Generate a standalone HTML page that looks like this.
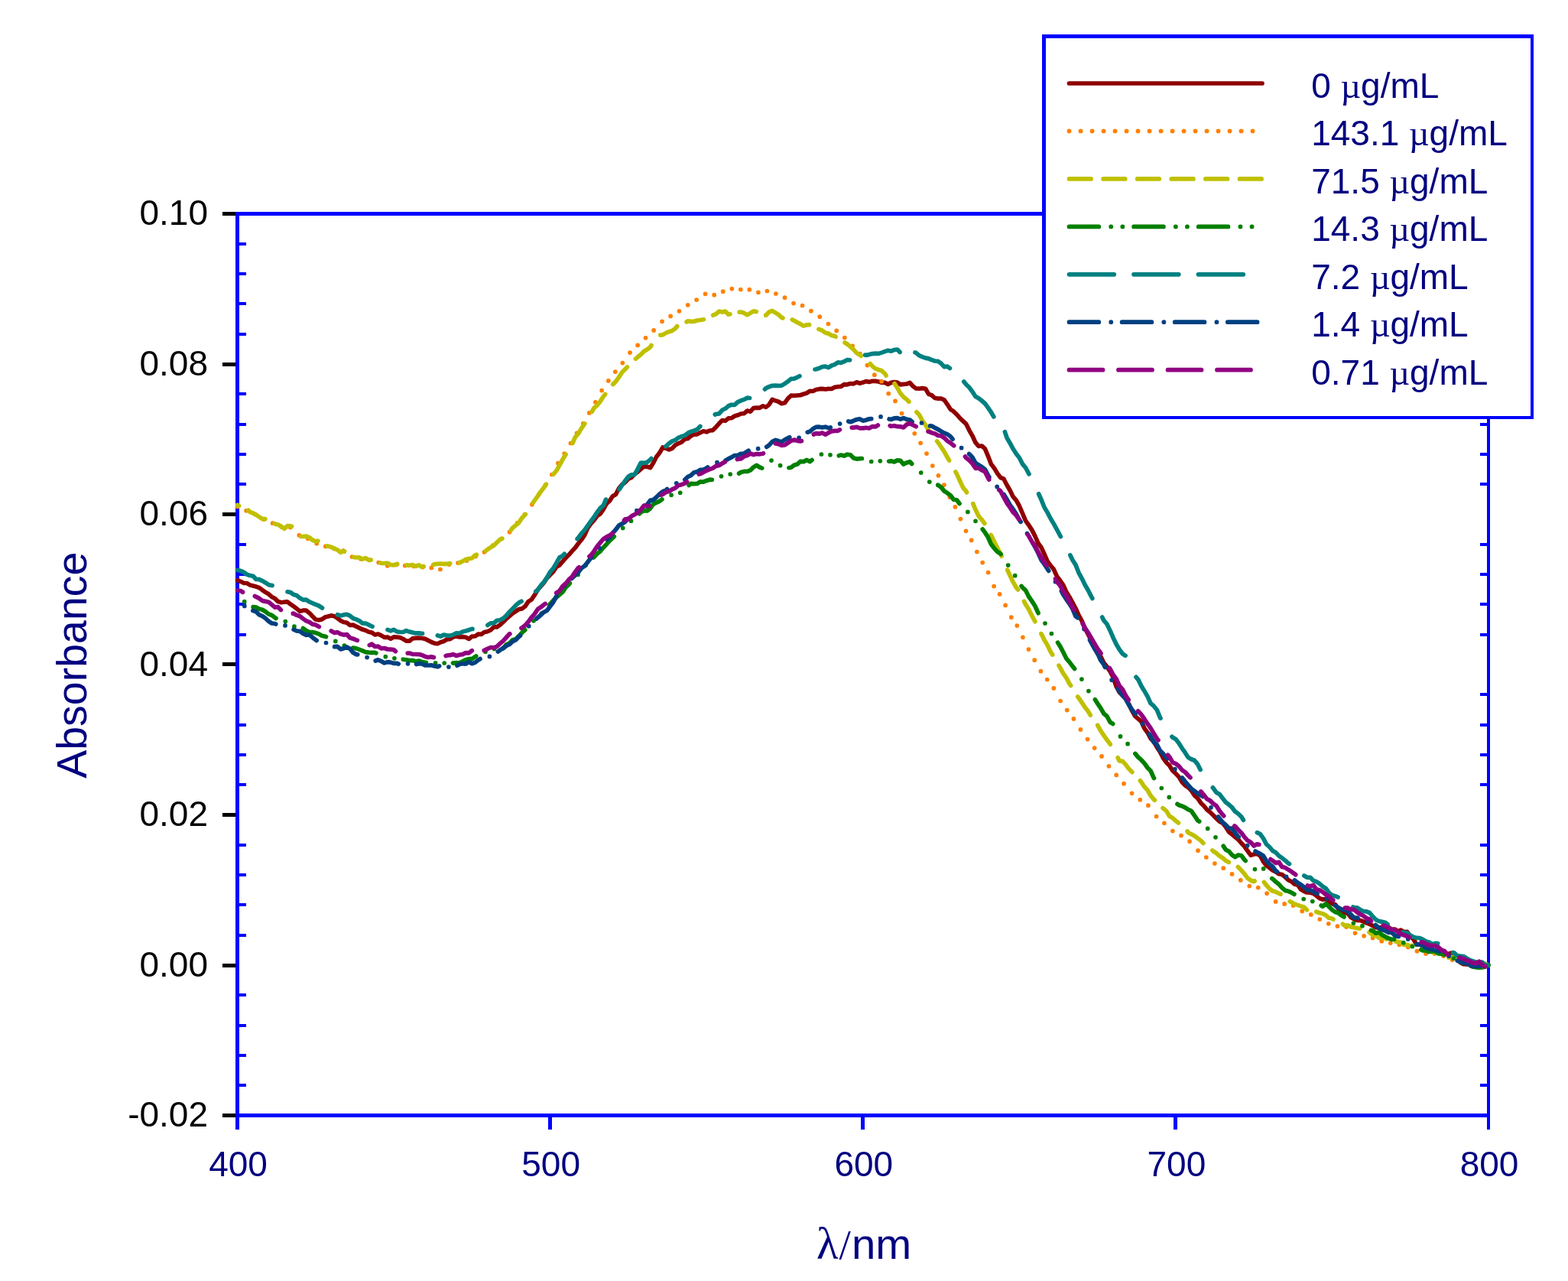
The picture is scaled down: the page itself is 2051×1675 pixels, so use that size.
<!DOCTYPE html>
<html lang="en"><head><meta charset="utf-8"><title>Absorbance spectra</title>
<style>
html,body{margin:0;padding:0;background:#fff;}
body{width:2051px;height:1675px;overflow:hidden;}
svg{display:block;}
text{font-family:"Liberation Sans",Arial,sans-serif;}
.sym{font-family:"Liberation Serif","DejaVu Serif",serif;}
</style></head><body>
<svg width="2051" height="1675" viewBox="0 0 2051 1675">
<rect x="0" y="0" width="2051" height="1675" fill="#ffffff"/>

<g shape-rendering="crispEdges" fill="#0000ff">
<rect x="308" y="277" width="5" height="1184"/>
<rect x="1945" y="277" width="4" height="1184"/>
<rect x="308" y="277" width="1641" height="5"/>
<rect x="308" y="1456" width="1641" height="5"/>
<rect x="308" y="1461" width="5" height="16"/>
<rect x="717" y="1461" width="5" height="16"/>
<rect x="1126" y="1461" width="5" height="16"/>
<rect x="1535" y="1461" width="5" height="16"/>
<rect x="1945" y="1461" width="4" height="16"/>
<rect x="313" y="317" width="9" height="4"/>
<rect x="1936" y="317" width="9" height="4"/>
<rect x="313" y="356" width="9" height="4"/>
<rect x="1936" y="356" width="9" height="4"/>
<rect x="313" y="395" width="9" height="4"/>
<rect x="1936" y="395" width="9" height="4"/>
<rect x="313" y="435" width="9" height="4"/>
<rect x="1936" y="435" width="9" height="4"/>
<rect x="313" y="513" width="9" height="4"/>
<rect x="1936" y="513" width="9" height="4"/>
<rect x="313" y="553" width="9" height="4"/>
<rect x="1936" y="553" width="9" height="4"/>
<rect x="313" y="592" width="9" height="4"/>
<rect x="1936" y="592" width="9" height="4"/>
<rect x="313" y="631" width="9" height="4"/>
<rect x="1936" y="631" width="9" height="4"/>
<rect x="313" y="710" width="9" height="4"/>
<rect x="1936" y="710" width="9" height="4"/>
<rect x="313" y="749" width="9" height="4"/>
<rect x="1936" y="749" width="9" height="4"/>
<rect x="313" y="788" width="9" height="4"/>
<rect x="1936" y="788" width="9" height="4"/>
<rect x="313" y="828" width="9" height="4"/>
<rect x="1936" y="828" width="9" height="4"/>
<rect x="313" y="906" width="9" height="4"/>
<rect x="1936" y="906" width="9" height="4"/>
<rect x="313" y="946" width="9" height="4"/>
<rect x="1936" y="946" width="9" height="4"/>
<rect x="313" y="985" width="9" height="4"/>
<rect x="1936" y="985" width="9" height="4"/>
<rect x="313" y="1024" width="9" height="4"/>
<rect x="1936" y="1024" width="9" height="4"/>
<rect x="313" y="1103" width="9" height="4"/>
<rect x="1936" y="1103" width="9" height="4"/>
<rect x="313" y="1142" width="9" height="4"/>
<rect x="1936" y="1142" width="9" height="4"/>
<rect x="313" y="1181" width="9" height="4"/>
<rect x="1936" y="1181" width="9" height="4"/>
<rect x="313" y="1221" width="9" height="4"/>
<rect x="1936" y="1221" width="9" height="4"/>
<rect x="313" y="1299" width="9" height="4"/>
<rect x="1936" y="1299" width="9" height="4"/>
<rect x="313" y="1339" width="9" height="4"/>
<rect x="1936" y="1339" width="9" height="4"/>
<rect x="313" y="1378" width="9" height="4"/>
<rect x="1936" y="1378" width="9" height="4"/>
<rect x="313" y="1417" width="9" height="4"/>
<rect x="1936" y="1417" width="9" height="4"/>
</g>
<g shape-rendering="crispEdges" fill="#000000">
<rect x="291" y="277" width="17" height="5"/>
<rect x="291" y="474" width="17" height="5"/>
<rect x="291" y="670" width="17" height="5"/>
<rect x="291" y="866" width="17" height="5"/>
<rect x="291" y="1063" width="17" height="5"/>
<rect x="291" y="1260" width="17" height="5"/>
<rect x="291" y="1456" width="17" height="5"/>
</g>
<g font-size="46" fill="#000000" text-anchor="end">
<text x="272" y="294.1">0.10</text>
<text x="272" y="490.6">0.08</text>
<text x="272" y="687.1">0.06</text>
<text x="272" y="883.6">0.04</text>
<text x="272" y="1080.1">0.02</text>
<text x="272" y="1276.6">0.00</text>
<text x="272" y="1473.1">-0.02</text>
</g>
<g font-size="46" fill="#000080" text-anchor="middle">
<text x="311.5" y="1538.2">400</text>
<text x="720.6" y="1538.2">500</text>
<text x="1129.8" y="1538.2">600</text>
<text x="1538.9" y="1538.2">700</text>
<text x="1948.0" y="1538.2">800</text>
</g>
<text x="1068" y="1646" font-size="56.3" fill="#000080"><tspan class="sym" font-size="59">λ</tspan><tspan class="sym" font-size="55" x="1097.6">/</tspan><tspan x="1113.9">nm</tspan></text>
<text transform="translate(113.2,869.7) rotate(-90)" font-size="55.5" fill="#000080" text-anchor="middle">Absorbance</text>
<g fill="none" stroke-linecap="round" stroke-linejoin="round" stroke-width="5.7">
<path d="M310.5,758.6 L314.6,760.3 L318.7,762.3 L322.8,762.5 L326.9,764.9 L331.0,765.9 L335.0,767.1 L339.1,768.5 L343.2,771.6 L347.3,774.4 L351.4,776.8 L355.5,780.4 L359.6,782.6 L363.7,786.6 L367.8,787.8 L371.9,787.2 L376.0,786.9 L380.1,790.2 L384.1,792.8 L388.2,796.0 L392.3,799.3 L396.4,798.2 L400.5,798.2 L404.6,801.4 L408.7,805.8 L412.8,810.0 L416.9,810.8 L421.0,809.9 L425.1,807.1 L429.1,806.1 L433.2,804.9 L437.3,805.7 L441.4,808.3 L445.5,811.6 L449.6,813.5 L453.7,814.3 L457.8,817.5 L461.9,817.1 L466.0,819.2 L470.1,821.1 L474.1,823.1 L478.2,824.3 L482.3,826.3 L486.4,827.1 L490.5,830.0 L494.6,829.0 L498.7,830.9 L502.8,833.4 L506.9,833.1 L511.0,835.3 L515.1,832.9 L519.2,833.1 L523.2,833.6 L527.3,835.5 L531.4,838.1 L535.5,838.2 L539.6,834.9 L543.7,834.4 L547.8,834.2 L551.9,834.5 L556.0,835.4 L560.1,837.4 L564.2,839.5 L568.2,841.1 L572.3,841.7 L576.4,839.7 L580.5,838.5 L584.6,836.0 L588.7,835.6 L592.8,832.9 L596.9,831.9 L601.0,833.0 L605.1,832.6 L609.2,833.3 L613.3,835.4 L617.3,832.2 L621.4,832.0 L625.5,829.1 L629.6,829.4 L633.7,826.5 L637.8,825.8 L641.9,823.8 L646.0,819.9 L650.1,819.8 L654.2,816.9 L658.3,813.1 L662.3,809.2 L666.4,805.6 L670.5,802.1 L674.6,799.3 L678.7,796.6 L682.8,795.9 L686.9,792.8 L691.0,786.7 L695.1,784.1 L699.2,778.2 L703.3,771.1 L707.4,766.6 L711.4,762.0 L715.5,755.6 L719.6,751.6 L723.7,747.4 L727.8,741.2 L731.9,739.0 L736.0,734.1 L740.1,729.4 L744.2,725.3 L748.3,720.6 L752.4,716.3 L756.4,710.8 L760.5,705.8 L764.6,699.8 L768.7,690.6 L772.8,684.9 L776.9,680.4 L781.0,674.6 L785.1,671.8 L789.2,666.0 L793.3,658.7 L797.4,655.0 L801.4,648.7 L805.5,646.4 L809.6,638.5 L813.7,633.6 L817.8,630.7 L821.9,626.1 L826.0,624.3 L830.1,619.9 L834.2,617.0 L838.3,613.3 L842.4,610.0 L846.5,610.2 L850.5,611.6 L854.6,605.2 L858.7,597.3 L862.8,592.1 L866.9,584.9 L871.0,586.1 L875.1,587.9 L879.2,586.3 L883.3,582.0 L887.4,579.8 L891.5,578.1 L895.5,574.3 L899.6,573.5 L903.7,570.0 L907.8,568.2 L911.9,567.8 L916.0,565.8 L920.1,563.8 L924.2,564.8 L928.3,563.0 L932.4,562.6 L936.5,558.4 L940.6,553.8 L944.6,549.6 L948.7,550.3 L952.8,546.8 L956.9,546.7 L961.0,544.0 L965.1,542.8 L969.2,541.0 L973.3,540.7 L977.4,537.1 L981.5,538.2 L985.6,533.6 L989.6,533.1 L993.7,533.3 L997.8,530.9 L1001.9,532.4 L1006.0,529.1 L1010.1,522.4 L1014.2,523.9 L1018.3,525.2 L1022.4,527.7 L1026.5,526.8 L1030.6,521.1 L1034.7,517.2 L1038.7,517.3 L1042.8,517.0 L1046.9,516.7 L1051.0,515.2 L1055.1,514.1 L1059.2,511.3 L1063.3,511.5 L1067.4,509.5 L1071.5,508.7 L1075.6,508.4 L1079.7,509.0 L1083.7,508.4 L1087.8,508.5 L1091.9,506.3 L1096.0,505.7 L1100.1,505.3 L1104.2,502.6 L1108.3,502.8 L1112.4,501.5 L1116.5,501.8 L1120.6,499.8 L1124.7,501.2 L1128.8,500.1 L1132.8,498.6 L1136.9,499.4 L1141.0,498.3 L1145.1,498.4 L1149.2,499.0 L1153.3,500.2 L1157.4,500.3 L1161.5,502.4 L1165.6,500.4 L1169.7,499.6 L1173.8,500.1 L1177.8,502.8 L1181.9,502.4 L1186.0,502.0 L1190.1,500.5 L1194.2,505.0 L1198.3,508.0 L1202.4,508.2 L1206.5,507.6 L1210.6,508.3 L1214.7,515.4 L1218.8,516.8 L1222.8,520.5 L1226.9,521.1 L1231.0,521.2 L1235.1,522.9 L1239.2,528.8 L1243.3,535.3 L1247.4,537.9 L1251.5,542.0 L1255.6,546.7 L1259.7,550.6 L1263.8,554.4 L1267.9,562.8 L1271.9,569.8 L1276.0,578.7 L1280.1,583.5 L1284.2,583.0 L1288.3,586.6 L1292.4,596.3 L1296.5,607.1 L1300.6,612.3 L1304.7,619.1 L1308.8,624.5 L1312.9,626.2 L1316.9,634.0 L1321.0,641.0 L1325.1,649.4 L1329.2,654.2 L1333.3,661.5 L1337.4,671.1 L1341.5,680.8 L1345.6,686.5 L1349.7,692.9 L1353.8,700.9 L1357.9,710.2 L1362.0,715.8 L1366.0,724.4 L1370.1,733.8 L1374.2,739.5 L1378.3,744.3 L1382.4,753.5 L1386.5,758.8 L1390.6,764.8 L1394.7,773.7 L1398.8,780.4 L1402.9,787.8 L1407.0,795.5 L1411.0,804.5 L1415.1,811.8 L1419.2,821.6 L1423.3,829.4 L1427.4,837.3 L1431.5,847.0 L1435.6,854.7 L1439.7,858.3 L1443.8,866.8 L1447.9,871.7 L1452.0,878.0 L1456.0,885.3 L1460.1,897.5 L1464.2,905.2 L1468.3,909.1 L1472.4,912.9 L1476.5,920.5 L1480.6,929.2 L1484.7,936.4 L1488.8,939.9 L1492.9,943.5 L1497.0,952.5 L1501.1,958.0 L1505.1,965.6 L1509.2,970.0 L1513.3,976.9 L1517.4,983.2 L1521.5,991.3 L1525.6,996.9 L1529.7,1001.1 L1533.8,1007.7 L1537.9,1011.3 L1542.0,1015.8 L1546.1,1022.5 L1550.1,1026.8 L1554.2,1029.6 L1558.3,1033.7 L1562.4,1040.0 L1566.5,1043.6 L1570.6,1049.7 L1574.7,1053.7 L1578.8,1058.7 L1582.9,1062.0 L1587.0,1066.0 L1591.1,1070.3 L1595.2,1074.2 L1599.2,1076.1 L1603.3,1081.3 L1607.4,1087.7 L1611.5,1090.9 L1615.6,1094.5 L1619.7,1097.7 L1623.8,1102.5 L1627.9,1106.8 L1632.0,1112.8 L1636.1,1118.3 L1640.2,1117.0 L1644.2,1116.5 L1648.3,1118.9 L1652.4,1126.5 L1656.5,1131.7 L1660.6,1134.7 L1664.7,1137.9 L1668.8,1140.0 L1672.9,1142.8 L1677.0,1143.5 L1681.1,1146.9 L1685.2,1150.7 L1689.3,1152.7 L1693.3,1156.2 L1697.4,1156.9 L1701.5,1162.9 L1705.6,1165.3 L1709.7,1167.0 L1713.8,1167.2 L1717.9,1168.3 L1722.0,1171.3 L1726.1,1174.6 L1730.2,1176.2 L1734.3,1175.4 L1738.3,1178.8 L1742.4,1181.7 L1746.5,1182.6 L1750.6,1188.3 L1754.7,1191.6 L1758.8,1193.8 L1762.9,1194.5 L1767.0,1199.5 L1771.1,1201.6 L1775.2,1203.4 L1779.3,1203.5 L1783.3,1204.9 L1787.4,1206.9 L1791.5,1208.2 L1795.6,1210.4 L1799.7,1212.7 L1803.8,1213.3 L1807.9,1212.4 L1812.0,1213.4 L1816.1,1212.3 L1820.2,1215.3 L1824.3,1215.0 L1828.4,1217.7 L1832.4,1216.2 L1836.5,1218.6 L1840.6,1218.4 L1844.7,1223.7 L1848.8,1228.0 L1852.9,1235.0 L1857.0,1235.0 L1861.1,1236.1 L1865.2,1239.6 L1869.3,1240.3 L1873.4,1241.9 L1877.4,1245.4 L1881.5,1245.6 L1885.6,1247.4 L1889.7,1246.8 L1893.8,1247.6 L1897.9,1246.1 L1902.0,1250.8 L1906.1,1254.3 L1910.2,1258.6 L1914.3,1260.6 L1918.4,1260.8 L1922.5,1261.1 L1926.5,1261.4 L1930.6,1260.4 L1934.7,1263.4 L1938.8,1262.5 L1942.9,1261.4 L1947.0,1262.0" stroke="#8f0000"/>
<path d="M310.5,662.5h0.01 M322.1,667.8h0.01 M333.6,672.4h0.01 M345.1,679.1h0.01 M356.6,684.2h0.01 M368.2,688.9h0.01 M379.7,689.6h0.01 M391.3,699.8h0.01 M402.7,704.3h0.01 M414.2,710.7h0.01 M425.8,714.4h0.01 M437.4,717.6h0.01 M448.9,720.1h0.01 M460.5,728.1h0.01 M472.0,731.0h0.01 M483.6,732.3h0.01 M495.2,735.5h0.01 M506.7,739.8h0.01 M518.2,738.5h0.01 M529.7,739.6h0.01 M541.3,740.4h0.01 M552.8,741.6h0.01 M564.3,742.4h0.01 M575.9,744.5h0.01 M587.4,738.1h0.01 M599.0,736.0h0.01 M610.5,733.1h0.01 M622.1,727.6h0.01 M633.5,721.8h0.01 M644.8,713.0h0.01 M655.8,704.5h0.01 M666.5,695.7h0.01 M676.7,683.8h0.01 M686.5,672.7h0.01 M695.9,659.7h0.01 M704.8,646.3h0.01 M713.4,634.3h0.01 M721.8,620.5h0.01 M730.0,605.7h0.01 M738.2,593.0h0.01 M746.4,579.5h0.01 M754.6,566.4h0.01 M762.8,553.9h0.01 M770.8,539.9h0.01 M778.8,525.8h0.01 M787.1,510.6h0.01 M795.8,497.9h0.01 M804.8,486.1h0.01 M814.3,474.6h0.01 M824.0,461.1h0.01 M834.1,451.4h0.01 M844.5,441.8h0.01 M855.1,431.9h0.01 M866.0,420.3h0.01 M877.1,413.4h0.01 M888.4,406.8h0.01 M899.7,398.8h0.01 M911.1,392.0h0.01 M922.6,384.3h0.01 M934.2,385.7h0.01 M945.7,381.2h0.01 M957.3,377.6h0.01 M968.8,378.5h0.01 M980.3,378.7h0.01 M991.9,382.3h0.01 M1003.4,380.5h0.01 M1014.9,384.0h0.01 M1026.5,389.2h0.01 M1038.0,396.6h0.01 M1049.5,399.5h0.01 M1060.9,406.7h0.01 M1072.2,414.2h0.01 M1083.4,423.5h0.01 M1094.2,432.4h0.01 M1104.8,441.5h0.01 M1115.1,452.4h0.01 M1124.8,462.7h0.01 M1134.4,477.6h0.01 M1143.8,490.2h0.01 M1153.1,498.7h0.01 M1162.2,514.7h0.01 M1171.0,524.4h0.01 M1179.6,540.5h0.01 M1188.0,552.7h0.01 M1196.2,566.8h0.01 M1204.1,579.3h0.01 M1212.0,593.1h0.01 M1219.8,609.0h0.01 M1227.4,621.8h0.01 M1234.9,634.1h0.01 M1242.2,650.1h0.01 M1249.4,662.9h0.01 M1256.4,678.6h0.01 M1263.5,694.3h0.01 M1270.6,706.4h0.01 M1277.9,721.6h0.01 M1285.2,735.6h0.01 M1292.6,748.5h0.01 M1300.1,766.6h0.01 M1307.6,776.9h0.01 M1315.1,791.4h0.01 M1322.8,807.2h0.01 M1330.3,818.1h0.01 M1337.9,833.3h0.01 M1345.5,849.1h0.01 M1353.2,863.2h0.01 M1361.4,877.7h0.01 M1369.7,888.5h0.01 M1378.3,899.9h0.01 M1387.1,916.5h0.01 M1395.7,928.6h0.01 M1404.4,939.9h0.01 M1413.4,953.9h0.01 M1422.5,966.6h0.01 M1431.6,978.1h0.01 M1441.0,988.9h0.01 M1450.4,1001.8h0.01 M1460.2,1013.4h0.01 M1470.0,1024.7h0.01 M1480.5,1037.3h0.01 M1491.3,1045.8h0.01 M1501.9,1053.2h0.01 M1512.6,1067.6h0.01 M1522.9,1076.3h0.01 M1533.9,1086.6h0.01 M1545.0,1092.6h0.01 M1556.1,1100.2h0.01 M1567.0,1112.2h0.01 M1577.8,1121.0h0.01 M1588.9,1129.1h0.01 M1600.2,1135.2h0.01 M1611.5,1142.9h0.01 M1622.8,1150.9h0.01 M1634.3,1158.6h0.01 M1645.7,1160.5h0.01 M1657.1,1168.2h0.01 M1668.6,1178.9h0.01 M1680.1,1181.9h0.01 M1691.7,1184.0h0.01 M1703.2,1191.4h0.01 M1714.8,1195.9h0.01 M1726.3,1202.0h0.01 M1737.8,1207.8h0.01 M1749.4,1211.1h0.01 M1761.0,1211.9h0.01 M1772.5,1220.1h0.01 M1784.1,1223.8h0.01 M1795.6,1226.5h0.01 M1807.2,1230.7h0.01 M1818.8,1233.1h0.01 M1830.3,1235.3h0.01 M1841.9,1238.5h0.01 M1853.5,1243.7h0.01 M1865.0,1247.1h0.01 M1876.6,1247.0h0.01 M1888.1,1250.0h0.01 M1899.7,1255.1h0.01 M1911.2,1257.7h0.01 M1922.8,1258.5h0.01 M1934.3,1262.2h0.01 M1945.8,1262.3h0.01" stroke="#ff8000"/>
<path d="M310.5,660.3 L312.5,661.5 M324.9,667.2 L326.9,669.3 L331.0,671.0 L335.0,673.2 L339.1,675.8 L343.2,678.6 L346.9,678.7 M359.3,684.8 L359.6,684.9 L363.7,686.1 L367.8,688.3 L371.9,691.3 L376.0,687.7 L380.1,687.8 L381.5,688.4 M393.9,701.5 L396.4,701.5 L400.5,701.1 L404.6,702.8 L408.7,706.2 L412.8,707.7 L416.0,707.3 M428.4,713.9 L429.1,714.1 L433.2,715.4 L437.3,717.2 L441.4,719.0 L445.5,722.3 L449.6,720.4 L450.6,721.0 M463.0,728.6 L466.0,729.0 L470.1,728.9 L474.1,731.1 L478.2,729.6 L482.3,732.3 L485.2,732.1 M497.6,736.1 L498.7,736.4 L502.8,736.5 L506.9,736.4 L511.0,738.5 L515.1,738.9 L519.2,737.4 L519.7,737.4 M532.1,738.9 L535.5,739.3 L539.6,738.6 L543.7,740.5 L547.8,738.9 L551.9,741.3 L554.2,740.6 M566.6,738.6 L568.2,737.7 L572.3,737.3 L576.4,737.0 L580.5,737.3 L584.6,737.4 L588.7,736.7 L588.7,736.7 M601.1,735.9 L605.1,733.9 L609.2,731.5 L613.3,730.4 L617.3,730.0 L621.4,726.0 L623.3,725.3 M635.6,720.2 L637.8,718.3 L641.9,715.6 L646.0,713.2 L650.1,709.1 L654.2,705.4 L656.9,704.2 M668.4,693.1 L670.5,690.2 L674.6,686.9 L678.7,683.3 L682.8,677.2 L686.9,672.9 L687.3,672.5 M697.2,657.4 L699.2,654.5 L703.3,648.8 L707.4,642.7 L711.4,637.6 L714.4,633.2 M723.8,620.3 L727.8,615.5 L731.9,608.4 L736.0,600.7 L740.1,594.1 M748.9,579.6 L752.4,571.6 L756.4,567.0 L760.5,560.2 L764.6,554.4 L764.9,553.9 M774.2,538.2 L776.9,533.7 L781.0,530.1 L785.1,524.9 L789.2,518.5 L791.6,515.5 M801.7,502.6 L805.5,498.9 L809.6,493.1 L813.7,486.8 L817.8,482.8 L820.4,479.9 M831.5,469.1 L834.2,466.8 L838.3,463.5 L842.4,459.2 L846.5,456.9 L850.5,454.0 L852.0,451.6 M863.8,438.1 L866.9,437.9 L871.0,435.4 L875.1,433.7 L879.2,432.6 L883.3,429.5 L885.7,426.6 M898.1,420.9 L899.6,419.9 L903.7,420.3 L907.8,420.3 L911.9,419.0 L916.0,418.5 L920.1,417.7 L920.3,417.6 M932.7,412.2 L936.5,410.7 L940.6,407.1 L944.6,408.0 L948.7,407.1 L952.8,411.2 L954.9,410.8 M967.2,408.1 L969.2,408.0 L973.3,409.3 L977.4,411.9 L981.5,409.4 L985.6,406.9 L989.3,407.5 M1001.7,412.2 L1001.9,412.2 L1006.0,408.0 L1010.1,406.4 L1014.2,408.9 L1018.3,411.4 L1022.4,415.3 L1023.9,415.8 M1036.3,417.9 L1038.7,419.2 L1042.8,421.5 L1046.9,423.6 L1051.0,426.1 L1055.1,424.9 L1058.5,424.7 M1070.9,430.4 L1071.5,430.6 L1075.6,432.2 L1079.7,435.2 L1083.7,436.1 L1087.8,438.7 L1091.9,439.4 L1093.0,440.2 M1105.1,448.0 L1108.3,450.0 L1112.4,453.4 L1116.5,457.0 L1120.6,461.7 L1124.7,463.9 L1126.3,465.3 M1138.2,475.6 L1141.0,478.7 L1145.1,481.9 L1149.2,483.5 L1153.3,484.8 L1157.4,488.4 L1159.0,491.0 M1170.1,501.6 L1173.8,507.2 L1177.8,514.3 L1181.9,519.2 L1186.0,522.2 L1188.9,525.2 M1198.9,538.8 L1202.4,542.4 L1206.5,550.1 L1210.6,555.6 L1214.7,562.7 L1216.2,564.2 M1225.7,577.0 L1226.9,578.5 L1231.0,584.5 L1235.1,590.7 L1239.2,598.1 L1241.6,602.0 M1250.0,616.9 L1251.5,619.9 L1255.6,628.8 L1259.7,637.6 L1263.8,642.4 L1264.5,644.0 M1272.8,658.7 L1276.0,666.5 L1280.1,674.8 L1284.2,679.6 L1287.9,684.4 M1296.2,699.4 L1296.5,699.9 L1300.6,708.5 L1304.7,716.5 L1308.8,724.0 L1310.1,727.2 M1317.7,745.2 L1321.0,752.3 L1325.1,760.9 L1329.2,768.1 L1331.6,771.0 M1339.5,786.2 L1341.5,790.3 L1345.6,796.7 L1349.7,804.9 L1353.8,812.5 L1353.9,812.7 M1361.9,828.5 L1362.0,828.5 L1366.0,836.7 L1370.1,843.6 L1374.2,852.3 L1376.7,856.1 M1385.0,870.2 L1386.5,872.6 L1390.6,880.4 L1394.7,886.2 L1398.8,893.9 L1400.6,896.4 M1409.7,910.9 L1411.0,912.6 L1415.1,918.7 L1419.2,924.8 L1423.3,930.1 L1426.3,935.1 M1435.7,948.3 L1439.7,955.5 L1443.8,961.6 L1447.9,967.4 L1452.0,972.8 L1452.3,973.4 M1462.2,990.8 L1464.2,994.9 L1468.3,995.3 L1472.4,999.6 L1476.5,1005.3 L1480.6,1009.3 L1480.8,1009.6 M1491.4,1020.7 L1492.9,1022.7 L1497.0,1028.9 L1501.1,1033.3 L1505.1,1040.3 L1509.2,1045.3 L1510.4,1046.3 M1521.0,1056.7 L1521.5,1057.1 L1525.6,1060.4 L1529.7,1067.2 L1533.8,1069.5 L1537.9,1073.3 L1541.4,1076.0 M1553.1,1087.0 L1554.2,1088.7 L1558.3,1090.7 L1562.4,1093.0 L1566.5,1096.0 L1570.6,1099.1 L1574.0,1102.5 M1585.9,1112.0 L1587.0,1113.0 L1591.1,1115.7 L1595.2,1119.3 L1599.2,1121.7 L1603.3,1125.4 L1607.4,1127.5 L1607.4,1127.5 M1619.4,1133.6 L1619.7,1133.8 L1623.8,1138.1 L1627.9,1142.8 L1632.0,1148.4 L1636.1,1151.2 L1640.2,1152.7 L1641.1,1152.1 M1653.4,1153.4 L1656.5,1157.4 L1660.6,1162.1 L1664.7,1165.1 L1668.8,1166.3 L1672.9,1168.3 L1675.1,1169.2 M1687.3,1178.7 L1689.3,1179.7 L1693.3,1182.1 L1697.4,1183.4 L1701.5,1184.9 L1705.6,1186.1 L1709.4,1189.7 M1721.8,1192.2 L1722.0,1192.2 L1726.1,1193.7 L1730.2,1194.7 L1734.3,1196.8 L1738.3,1200.3 L1742.4,1201.0 L1744.0,1202.1 M1756.4,1208.3 L1758.8,1210.1 L1762.9,1209.8 L1767.0,1211.9 L1771.1,1212.7 L1775.2,1213.5 L1778.6,1214.2 M1791.0,1219.0 L1791.5,1219.3 L1795.6,1223.0 L1799.7,1223.0 L1803.8,1226.3 L1807.9,1226.0 L1812.0,1227.2 L1813.2,1227.9 M1825.6,1231.1 L1828.4,1231.7 L1832.4,1232.1 L1836.5,1235.5 L1840.6,1235.4 L1844.7,1237.1 L1847.8,1236.3 M1860.2,1239.6 L1861.1,1240.2 L1865.2,1240.6 L1869.3,1243.4 L1873.4,1245.2 L1877.4,1245.2 L1881.5,1246.6 L1882.4,1246.8 M1894.8,1252.1 L1897.9,1251.7 L1902.0,1251.3 L1906.1,1251.7 L1910.2,1254.4 L1914.3,1255.3 L1917.0,1256.9 M1929.4,1260.9 L1930.6,1260.5 L1934.7,1259.5 L1938.8,1261.4 L1942.9,1260.2 L1947.0,1262.0" stroke="#c0c000"/>
<path d="M319.7,786.7h0.01 M331.1,793.7 L335.0,794.0 L339.1,796.2 L343.2,797.2 L347.3,799.7 L351.4,802.9 L355.5,804.5 L359.6,807.6 L361.0,808.5 M373.3,812.6h0.01 M384.9,819.2h0.01 M396.4,821.5 L396.4,821.5 L400.5,824.6 L404.6,826.5 L408.7,826.6 L412.8,827.5 L416.9,828.9 L421.0,831.3 L425.1,832.1 L426.5,832.7 M438.8,838.4h0.01 M450.4,844.1h0.01 M461.8,847.0 L461.9,847.0 L466.0,847.9 L470.1,849.4 L474.1,850.9 L478.2,852.7 L482.3,853.1 L486.4,853.4 L490.5,853.4 L491.9,854.0 M504.3,858.7h0.01 M515.9,860.8h0.01 M527.3,862.2 L527.3,862.2 L531.4,862.8 L535.5,863.6 L539.6,863.5 L543.7,864.7 L547.8,864.0 L551.9,865.5 L556.0,866.4 L557.3,866.3 M569.6,866.9h0.01 M581.2,867.0h0.01 M592.6,867.0 L592.8,867.1 L596.9,866.5 L601.0,866.8 L605.1,864.9 L609.2,862.8 L613.3,861.7 L617.3,861.6 L621.4,858.9 L622.7,857.9 M635.0,852.3h0.01 M646.6,848.4h0.01 M658.0,847.6 L658.3,847.6 L662.3,842.9 L666.4,841.0 L670.5,836.8 L674.6,835.8 L678.7,831.6 L682.8,827.2 L686.8,823.6 M698.0,811.7h0.01 M708.4,802.0h0.01 M718.6,791.2 L719.6,789.7 L723.7,785.3 L727.8,781.0 L731.9,777.5 L736.0,774.1 L740.1,768.0 L744.2,764.1 L745.3,762.6 M756.0,751.4h0.01 M766.2,739.1h0.01 M776.3,729.1 L776.9,728.5 L781.0,724.1 L785.1,720.9 L789.2,716.0 L793.3,711.7 L797.4,707.1 L801.4,703.5 L803.3,701.5 M814.7,690.4h0.01 M825.5,681.2h0.01 M836.4,671.7 L838.3,669.7 L842.4,667.6 L846.5,667.9 L850.5,664.9 L854.6,659.2 L858.7,657.1 L862.8,655.3 L865.9,653.0 M878.1,647.3h0.01 M889.7,644.3h0.01 M901.1,634.5 L903.7,632.4 L907.8,632.6 L911.9,632.5 L916.0,629.9 L920.1,630.1 L924.2,628.4 L928.3,627.2 L931.2,627.3 M943.5,622.8h0.01 M955.2,620.0h0.01 M966.6,619.2 L969.2,617.4 L973.3,616.4 L977.4,616.5 L981.5,614.9 L985.6,610.8 L989.6,608.3 L993.7,611.0 L996.7,612.1 M1009.0,602.1h0.01 M1020.6,608.7h0.01 M1031.9,611.7 L1034.7,611.3 L1038.7,608.2 L1042.8,607.1 L1046.9,603.4 L1051.0,603.7 L1055.1,601.4 L1059.2,603.6 L1062.0,601.5 M1074.4,594.0h0.01 M1086.0,594.8h0.01 M1097.3,595.8 L1100.1,595.1 L1104.2,596.1 L1108.3,594.2 L1112.4,594.8 L1116.5,598.9 L1120.6,600.1 L1124.7,599.7 L1127.4,599.5 M1139.7,603.5h0.01 M1151.3,602.8h0.01 M1162.6,603.2 L1165.6,602.8 L1169.7,603.9 L1173.8,601.9 L1177.8,602.3 L1181.9,607.1 L1186.0,604.9 L1190.1,603.7 L1192.7,606.5 M1204.7,618.1h0.01 M1215.8,630.1h0.01 M1226.8,634.2 L1226.9,634.2 L1231.0,637.1 L1235.1,642.1 L1239.2,644.7 L1243.3,647.7 L1247.4,653.2 L1251.5,653.8 L1255.0,658.5 M1265.9,669.4h0.01 M1276.0,681.3h0.01 M1285.2,692.0 L1288.3,696.1 L1292.4,702.5 L1296.5,711.8 L1300.6,717.1 L1304.7,721.5 L1308.8,724.1 L1309.1,724.5 M1318.7,739.1h0.01 M1327.7,752.7h0.01 M1336.1,766.4 L1337.4,768.2 L1341.5,771.8 L1345.6,780.0 L1349.7,785.9 L1353.8,792.2 L1357.9,801.2 L1358.1,801.7 M1367.0,815.0h0.01 M1375.4,828.5h0.01 M1383.6,840.2 L1386.5,844.7 L1390.6,852.5 L1394.7,860.8 L1398.8,865.6 L1402.9,871.1 L1405.6,874.5 M1414.9,888.1h0.01 M1423.9,903.6h0.01 M1432.4,914.7 L1435.6,919.8 L1439.7,925.8 L1443.8,933.0 L1447.9,936.5 L1452.0,944.2 L1455.6,946.4 M1465.5,962.9h0.01 M1475.1,972.7h0.01 M1484.9,985.4 L1488.8,990.1 L1492.9,993.7 L1497.0,998.1 L1501.1,1004.0 L1505.1,1008.0 L1509.2,1017.2 L1509.5,1017.5 M1519.3,1030.5h0.01 M1529.3,1042.4h0.01 M1540.0,1051.3 L1542.0,1052.7 L1546.1,1054.0 L1550.1,1055.9 L1554.2,1058.5 L1558.3,1060.3 L1562.4,1066.3 L1566.5,1072.6 L1568.7,1074.1 M1579.7,1083.4h0.01 M1590.0,1094.8h0.01 M1600.2,1106.3 L1603.3,1110.9 L1607.4,1113.2 L1611.5,1117.8 L1615.6,1120.7 L1619.7,1118.0 L1623.8,1118.8 L1627.9,1124.3 L1629.2,1125.5 M1641.4,1136.6h0.01 M1652.7,1135.9h0.01 M1663.8,1148.7 L1664.7,1149.2 L1668.8,1153.1 L1672.9,1156.3 L1677.0,1160.9 L1681.1,1164.4 L1685.2,1165.3 L1689.3,1167.1 L1692.9,1169.2 M1705.2,1175.5h0.01 M1716.8,1178.6h0.01 M1728.2,1184.0 L1730.2,1185.2 L1734.3,1181.8 L1738.3,1185.4 L1742.4,1189.6 L1746.5,1192.5 L1750.6,1193.7 L1754.7,1197.1 L1758.1,1198.9 M1770.4,1207.0h0.01 M1782.0,1210.7h0.01 M1793.4,1216.4 L1795.6,1217.0 L1799.7,1220.2 L1803.8,1219.0 L1807.9,1222.5 L1812.0,1224.8 L1816.1,1226.9 L1820.2,1228.3 L1823.5,1228.2 M1835.8,1232.7h0.01 M1847.4,1237.6h0.01 M1858.8,1242.0 L1861.1,1243.0 L1865.2,1242.7 L1869.3,1244.6 L1873.4,1243.6 L1877.4,1244.1 L1881.5,1246.8 L1885.6,1246.7 L1889.0,1248.6 M1901.3,1253.0h0.01 M1912.9,1259.4h0.01 M1924.3,1263.4 L1926.5,1264.1 L1930.6,1264.8 L1934.7,1265.2 L1938.8,1265.0 L1942.9,1263.9 L1947.0,1262.0" stroke="#008000"/>
<path d="M310.5,745.3 L314.6,746.5 L318.7,748.2 L322.8,751.1 L326.9,752.5 L331.0,753.2 L335.0,757.5 L339.1,757.6 L343.2,759.6 L347.3,761.9 L351.4,764.7 L355.5,765.5 L356.1,765.6 M376.0,773.8 L380.1,774.6 L384.1,777.5 L388.2,778.6 L392.3,782.1 L396.4,784.3 L400.5,784.1 L404.6,786.9 L408.7,788.6 L412.8,790.4 L416.9,792.0 L421.0,794.7 L421.5,795.0 M441.4,803.7 L445.5,804.9 L449.6,803.9 L453.7,803.3 L457.8,805.2 L461.9,808.5 L466.0,809.9 L470.1,811.8 L474.1,814.9 L478.2,815.2 L482.3,816.9 L486.4,819.1 L487.1,819.3 M507.0,823.4 L511.0,824.9 L515.1,823.4 L519.2,825.9 L523.2,826.5 L527.3,826.5 L531.4,824.6 L535.5,826.1 L539.6,826.9 L543.7,827.9 L547.8,827.8 L551.9,828.3 L552.5,828.3 M572.4,830.9 L576.4,832.1 L580.5,830.0 L584.6,831.1 L588.7,831.2 L592.8,830.0 L596.9,827.9 L601.0,828.0 L605.1,826.1 L609.2,825.0 L613.3,823.7 L617.3,822.4 L617.9,822.4 M637.9,817.4 L641.9,814.9 L646.0,814.7 L650.1,811.3 L654.2,810.7 L658.3,808.5 L662.3,804.9 L666.4,800.0 L670.5,796.1 L674.6,791.6 L678.7,788.1 L682.1,786.3 M700.8,773.4 L703.3,771.7 L707.4,765.5 L711.4,761.2 L715.5,755.2 L719.6,747.8 L723.7,743.1 L727.8,736.2 L731.9,728.9 L736.0,726.8 L738.4,724.3 M755.1,704.6 L756.4,703.2 L760.5,697.7 L764.6,693.2 L768.7,687.5 L772.8,681.7 L776.9,676.2 L781.0,669.9 L785.1,664.5 L789.2,661.0 L792.6,653.1 M810.1,639.8 L813.7,634.5 L817.8,628.5 L821.9,623.3 L826.0,620.8 L830.1,620.6 L834.2,613.1 L838.3,605.1 L842.4,605.4 L846.5,604.4 L850.5,601.1 L851.9,599.6 M871.0,583.7 L875.1,579.9 L879.2,576.9 L883.3,575.4 L887.4,572.3 L891.5,570.7 L895.5,569.5 L899.6,566.4 L903.7,564.4 L907.8,563.1 L911.9,561.5 L915.9,557.5 M935.3,542.0 L936.5,541.5 L940.6,540.9 L944.6,536.3 L948.7,534.3 L952.8,530.8 L956.9,529.3 L961.0,529.4 L965.1,525.6 L969.2,523.8 L973.3,522.4 L977.4,520.2 L980.6,520.5 M1000.5,509.0 L1001.9,507.6 L1006.0,505.7 L1010.1,504.3 L1014.2,504.2 L1018.3,504.4 L1022.4,504.2 L1026.5,501.6 L1030.6,498.8 L1034.7,495.3 L1038.7,495.1 L1042.8,493.3 L1046.0,491.7 M1066.0,483.0 L1067.4,482.8 L1071.5,481.5 L1075.6,479.6 L1079.7,479.2 L1083.7,480.7 L1087.8,478.0 L1091.9,476.6 L1096.0,473.9 L1100.1,474.3 L1104.2,472.7 L1108.3,470.5 L1111.6,470.8 M1131.6,464.2 L1132.8,464.4 L1136.9,463.6 L1141.0,462.6 L1145.1,462.2 L1149.2,462.4 L1153.3,461.1 L1157.4,459.6 L1161.5,458.3 L1165.6,459.1 L1169.7,457.5 L1173.8,457.0 L1177.1,460.5 M1197.0,461.0 L1198.3,461.3 L1202.4,464.8 L1206.5,466.6 L1210.6,468.1 L1214.7,468.9 L1218.8,470.6 L1222.8,472.0 L1226.9,472.4 L1231.0,475.2 L1235.1,479.6 L1239.2,479.2 L1242.4,481.5 M1260.8,498.9 L1263.8,502.8 L1267.9,506.8 L1271.9,512.1 L1276.0,518.5 L1280.1,520.8 L1284.2,524.0 L1288.3,527.5 L1292.4,533.2 L1296.5,539.2 L1299.8,544.9 M1314.4,564.7 L1316.9,572.2 L1321.0,579.2 L1325.1,586.8 L1329.2,593.2 L1333.3,598.4 L1337.4,606.6 L1341.5,611.5 L1345.6,619.1 L1346.0,619.8 M1358.6,645.8 L1362.0,653.2 L1366.0,663.3 L1370.1,670.1 L1374.2,678.0 L1378.3,684.9 L1382.4,692.4 L1386.5,700.0 L1387.3,701.6 M1399.9,725.9 L1402.9,732.2 L1407.0,738.6 L1411.0,748.8 L1415.1,756.3 L1419.2,764.8 L1423.3,771.8 L1427.4,779.9 L1428.8,782.4 M1441.7,807.0 L1443.8,811.2 L1447.9,816.0 L1452.0,824.4 L1456.0,833.7 L1460.1,842.2 L1464.2,849.2 L1468.3,854.8 L1472.1,857.3 M1486.0,885.3 L1488.8,888.6 L1492.9,897.1 L1497.0,903.7 L1501.1,910.9 L1505.1,919.7 L1509.2,923.2 L1513.3,928.2 L1517.4,938.2 L1518.0,939.1 M1533.0,963.2 L1533.8,964.2 L1537.9,966.5 L1542.0,971.7 L1546.1,978.3 L1550.1,983.9 L1554.2,990.4 L1558.3,992.8 L1562.4,994.3 L1566.5,999.2 L1570.2,1006.5 M1586.4,1029.8 L1587.0,1030.5 L1591.1,1036.3 L1595.2,1038.5 L1599.2,1043.7 L1603.3,1048.9 L1607.4,1052.1 L1611.5,1055.7 L1615.6,1061.2 L1619.7,1064.0 L1623.8,1068.0 L1626.4,1072.3 M1644.4,1088.6 L1648.3,1090.5 L1652.4,1096.1 L1656.5,1103.8 L1660.6,1107.5 L1664.7,1112.5 L1668.8,1114.8 L1672.9,1119.1 L1677.0,1121.9 L1681.1,1125.2 L1685.2,1128.8 L1686.5,1129.7 M1705.8,1145.1 L1709.7,1147.3 L1713.8,1147.3 L1717.9,1151.4 L1722.0,1152.9 L1726.1,1155.5 L1730.2,1159.2 L1734.3,1161.7 L1738.3,1167.1 L1742.4,1170.6 L1746.5,1171.7 L1750.1,1173.1 M1769.8,1186.0 L1771.1,1186.8 L1775.2,1186.8 L1779.3,1189.7 L1783.3,1191.5 L1787.4,1191.9 L1791.5,1193.5 L1795.6,1198.4 L1799.7,1202.6 L1803.8,1204.5 L1807.9,1205.4 L1812.0,1206.2 L1815.1,1208.8 M1835.0,1218.8 L1836.5,1219.4 L1840.6,1219.8 L1844.7,1223.1 L1848.8,1225.1 L1852.9,1226.4 L1857.0,1226.5 L1861.1,1228.3 L1865.2,1230.9 L1869.3,1231.9 L1873.4,1234.8 L1877.4,1233.3 L1880.6,1233.5 M1900.5,1245.6 L1902.0,1245.9 L1906.1,1249.6 L1910.2,1250.1 L1914.3,1250.5 L1918.4,1252.9 L1922.5,1255.5 L1926.5,1256.8 L1930.6,1258.2 L1934.7,1258.3 L1938.8,1258.0 L1942.9,1261.8 L1946.0,1262.0" stroke="#008080"/>
<path d="M319.8,792.4h0.01 M330.8,798.5 L331.0,798.6 L335.0,799.8 L339.1,803.9 L343.2,805.6 L347.3,808.5 L351.4,812.3 L355.5,815.0 L359.6,815.5 L360.7,816.1 M373.0,817.9h0.01 M384.1,823.1 L384.1,823.1 L388.2,825.0 L392.3,825.4 L396.4,828.4 L400.5,830.3 L404.6,830.0 L408.7,833.4 L412.8,836.6 L414.2,837.5 M426.5,840.5h0.01 M437.6,845.7 L441.4,845.4 L445.5,848.9 L449.6,847.7 L453.7,846.0 L457.8,848.4 L461.9,853.3 L466.0,855.7 L467.7,855.8 M480.1,859.6h0.01 M491.2,864.0 L494.6,862.8 L498.7,864.6 L502.8,866.9 L506.9,865.6 L511.0,866.1 L515.1,867.4 L519.2,867.3 L521.2,868.2 M533.5,867.8h0.01 M544.6,868.6 L547.8,867.7 L551.9,868.0 L556.0,870.0 L560.1,870.0 L564.2,869.8 L568.2,870.9 L572.3,871.8 L574.6,870.9 M586.9,872.1h0.01 M597.9,870.2 L601.0,868.5 L605.1,867.6 L609.2,868.2 L613.3,865.6 L617.3,867.7 L621.4,866.4 L625.5,863.1 L628.0,861.5 M640.4,858.4h0.01 M651.4,852.1 L654.2,849.9 L658.3,847.5 L662.3,844.4 L666.4,842.7 L670.5,838.8 L674.6,836.7 L678.7,832.6 L680.4,831.3 M691.7,818.7h0.01 M701.7,809.0 L703.3,807.6 L707.4,804.0 L711.4,800.4 L715.5,798.2 L719.6,792.7 L723.7,787.4 L727.8,779.5 L727.9,779.4 M738.2,766.3h0.01 M747.7,756.6 L748.3,756.0 L752.4,752.2 L756.4,748.4 L760.5,743.0 L764.6,740.2 L768.7,734.9 L772.8,729.7 L773.9,728.8 M784.5,716.8h0.01 M794.1,705.6 L797.4,702.8 L801.4,696.9 L805.5,692.5 L809.6,687.0 L813.7,684.7 L817.8,682.2 L821.2,678.2 M832.9,667.7h0.01 M843.6,661.3 L846.5,659.7 L850.5,654.4 L854.6,653.6 L858.7,650.0 L862.8,646.0 L866.9,642.7 L871.0,641.2 L872.6,639.6 M884.8,631.8h0.01 M895.8,627.3 L899.6,623.5 L903.7,621.6 L907.8,617.7 L911.9,616.9 L916.0,614.3 L920.1,614.0 L924.2,612.2 L925.7,610.9 M938.0,604.7h0.01 M949.1,602.0 L952.8,599.9 L956.9,597.9 L961.0,595.5 L965.1,595.4 L969.2,593.3 L973.3,593.0 L977.4,590.3 L979.2,589.3 M991.6,586.7h0.01 M1002.7,584.4 L1006.0,582.1 L1010.1,577.6 L1014.2,575.4 L1018.3,576.6 L1022.4,577.9 L1026.5,575.0 L1030.6,572.9 L1032.8,571.8 M1045.1,572.3h0.01 M1056.2,565.2 L1059.2,564.3 L1063.3,560.8 L1067.4,558.4 L1071.5,558.2 L1075.6,558.9 L1079.7,558.2 L1083.7,559.7 L1086.3,559.0 M1098.6,554.1h0.01 M1109.7,551.0 L1112.4,551.7 L1116.5,550.2 L1120.6,548.5 L1124.7,547.9 L1128.8,550.1 L1132.8,549.2 L1136.9,547.8 L1139.7,547.7 M1152.0,544.9h0.01 M1163.1,548.0 L1165.6,548.5 L1169.7,546.9 L1173.8,546.7 L1177.8,548.2 L1181.9,546.6 L1186.0,548.3 L1190.1,549.1 L1193.1,551.4 M1205.5,553.0h0.01 M1216.6,556.9 L1218.8,557.0 L1222.8,559.4 L1226.9,561.4 L1231.0,564.0 L1235.1,566.2 L1239.2,567.8 L1243.3,570.8 L1246.1,574.2 M1257.6,585.7h0.01 M1267.6,593.6 L1267.9,593.8 L1271.9,598.0 L1276.0,605.3 L1280.1,607.9 L1284.2,610.4 L1288.3,613.7 L1292.4,621.4 L1293.9,624.0 M1304.2,636.4h0.01 M1312.9,646.4 L1316.9,652.7 L1321.0,660.2 L1325.1,665.7 L1329.2,672.0 L1333.3,679.7 L1335.1,682.3 M1343.5,697.6h0.01 M1350.9,710.1 L1353.8,715.2 L1357.9,723.0 L1362.0,732.2 L1366.0,737.5 L1370.1,744.0 L1371.7,746.4 M1380.5,760.7h0.01 M1388.4,772.7 L1390.6,777.2 L1394.7,783.5 L1398.8,789.3 L1402.9,796.1 L1407.0,805.8 L1409.6,807.8 M1418.0,822.6h0.01 M1425.5,836.7 L1427.4,840.4 L1431.5,847.9 L1435.6,854.0 L1439.7,863.4 L1443.8,868.9 L1445.5,872.5 M1454.2,889.2h0.01 M1462.2,900.1 L1464.2,903.6 L1468.3,909.4 L1472.4,913.9 L1476.5,921.4 L1480.6,927.7 L1484.7,932.8 L1485.1,933.5 M1494.5,946.4h0.01 M1503.0,959.8 L1505.1,962.5 L1509.2,970.4 L1513.3,973.5 L1517.4,981.5 L1521.5,985.6 L1525.6,991.0 L1526.7,991.9 M1536.9,1005.7h0.01 M1546.3,1016.9 L1550.1,1021.8 L1554.2,1026.5 L1558.3,1031.2 L1562.4,1034.2 L1566.5,1037.2 L1570.6,1039.7 L1573.2,1041.4 M1584.0,1055.8h0.01 M1593.4,1067.9 L1595.2,1070.2 L1599.2,1075.1 L1603.3,1078.6 L1607.4,1083.0 L1611.5,1083.2 L1615.6,1089.2 L1619.7,1094.1 L1620.2,1094.4 M1631.7,1105.7h0.01 M1642.1,1113.0 L1644.2,1114.3 L1648.3,1116.4 L1652.4,1118.9 L1656.5,1125.8 L1660.6,1129.9 L1664.7,1133.2 L1668.8,1138.7 L1670.5,1139.8 M1682.5,1146.3h0.01 M1693.4,1151.0 L1697.4,1154.2 L1701.5,1156.7 L1705.6,1159.8 L1709.7,1163.8 L1713.8,1163.9 L1717.9,1165.5 L1722.0,1168.1 L1723.2,1168.4 M1735.4,1175.2h0.01 M1746.2,1183.9 L1746.5,1184.1 L1750.6,1186.8 L1754.7,1189.0 L1758.8,1189.6 L1762.9,1192.1 L1767.0,1195.6 L1771.1,1200.0 L1775.2,1200.0 L1776.0,1200.3 M1788.3,1205.1h0.01 M1799.4,1209.6 L1799.7,1209.8 L1803.8,1213.6 L1807.9,1215.6 L1812.0,1217.0 L1816.1,1219.4 L1820.2,1218.9 L1824.3,1223.0 L1828.4,1224.5 L1829.4,1224.7 M1841.7,1227.9h0.01 M1852.8,1234.8 L1852.9,1234.9 L1857.0,1234.8 L1861.1,1236.5 L1865.2,1239.3 L1869.3,1240.7 L1873.4,1241.3 L1877.4,1242.8 L1881.5,1243.2 L1882.9,1244.1 M1895.3,1250.1h0.01 M1906.3,1256.2 L1910.2,1257.4 L1914.3,1259.5 L1918.4,1259.2 L1922.5,1261.8 L1926.5,1263.2 L1930.6,1263.5 L1934.7,1263.4 L1936.4,1263.1" stroke="#004080"/>
<path d="M310.5,772.0 L314.6,772.5 L317.5,774.2 M333.4,779.5 L335.0,780.4 L339.1,782.4 L343.2,785.6 L347.3,786.4 L351.4,787.2 L355.5,790.6 L359.6,794.2 L363.7,793.7 L367.4,797.4 M383.3,802.2 L384.1,802.2 L388.2,804.4 L392.3,805.8 L396.4,809.0 L400.5,811.8 L404.6,813.4 L408.7,816.1 L412.8,817.0 L416.9,819.2 L417.3,819.5 M433.2,825.0 L437.3,827.4 L441.4,826.7 L445.5,828.9 L449.6,830.1 L453.7,829.5 L457.8,834.1 L461.9,835.2 L466.0,836.9 L467.4,837.4 M483.3,843.6 L486.4,842.2 L490.5,845.5 L494.6,845.1 L498.7,847.8 L502.8,847.5 L506.9,849.0 L511.0,849.2 L515.1,849.6 L517.4,851.7 M533.3,854.1 L535.5,854.0 L539.6,855.4 L543.7,855.5 L547.8,855.6 L551.9,856.6 L556.0,858.4 L560.1,859.5 L564.2,858.9 L567.4,859.6 M583.2,857.6 L584.6,857.0 L588.7,856.7 L592.8,855.5 L596.9,857.4 L601.0,856.3 L605.1,855.6 L609.2,853.7 L613.3,853.8 L617.3,850.8 M633.2,850.5 L633.7,850.4 L637.8,848.3 L641.9,846.5 L646.0,846.9 L650.1,845.3 L654.2,841.4 L658.3,837.9 L662.3,833.5 L666.4,828.9 L666.9,828.8 M682.0,821.3 L682.8,820.7 L686.9,817.7 L691.0,813.2 L695.1,807.5 L699.2,802.9 L703.3,796.7 L707.4,793.9 L711.4,790.7 L713.2,789.4 M727.7,775.3 L727.8,775.1 L731.9,772.6 L736.0,766.4 L740.1,763.0 L744.2,757.7 L748.3,754.1 L752.4,747.9 L756.4,742.5 L757.4,741.8 M771.0,727.6 L772.8,726.2 L776.9,720.9 L781.0,714.5 L785.1,709.6 L789.2,704.8 L793.3,702.1 L797.4,700.2 L801.4,697.4 M816.4,680.6 L817.8,678.8 L821.9,679.1 L826.0,674.9 L830.1,672.8 L834.2,670.4 L838.3,666.3 L842.4,661.1 L846.5,661.9 L849.3,661.7 M864.8,647.2 L866.9,646.3 L871.0,643.6 L875.1,642.6 L879.2,639.9 L883.3,638.1 L887.4,634.5 L891.5,633.7 L895.5,632.1 L898.5,629.9 M914.3,620.0 L916.0,619.6 L920.1,617.5 L924.2,615.3 L928.3,613.6 L932.4,612.1 L936.5,609.4 L940.6,608.5 L944.6,605.9 L948.3,604.0 M964.3,600.6 L965.1,600.2 L969.2,599.8 L973.3,596.9 L977.4,595.6 L981.5,593.0 L985.6,594.6 L989.6,593.6 L993.7,593.8 L997.8,593.2 L998.4,592.8 M1014.3,580.0 L1018.3,580.7 L1022.4,582.5 L1026.5,582.0 L1030.6,579.2 L1034.7,576.4 L1038.7,575.1 L1042.8,576.3 L1046.9,576.8 L1048.4,576.7 M1064.3,568.0 L1067.4,566.7 L1071.5,567.2 L1075.6,566.1 L1079.7,568.3 L1083.7,565.9 L1087.8,563.8 L1091.9,563.3 L1096.0,563.3 L1098.4,561.9 M1114.3,559.2 L1116.5,559.1 L1120.6,558.4 L1124.7,559.9 L1128.8,559.8 L1132.8,559.3 L1136.9,560.0 L1141.0,557.6 L1145.1,557.9 L1148.4,556.1 M1164.2,556.7 L1165.6,557.3 L1169.7,556.7 L1173.8,557.7 L1177.8,557.8 L1181.9,559.0 L1186.0,555.0 L1190.1,553.7 L1194.2,555.8 L1198.2,557.7 M1214.1,564.1 L1214.7,564.4 L1218.8,565.9 L1222.8,566.9 L1226.9,569.5 L1231.0,569.9 L1235.1,572.5 L1239.2,576.6 L1243.3,579.1 L1247.4,582.5 L1247.7,582.8 M1262.5,597.1 L1263.8,598.8 L1267.9,602.0 L1271.9,606.1 L1276.0,612.3 L1280.1,612.0 L1284.2,614.8 L1288.3,616.8 L1292.4,624.8 L1293.7,627.0 M1306.7,640.5 L1308.8,642.2 L1312.9,650.2 L1316.9,657.5 L1321.0,663.3 L1325.1,669.8 L1329.2,673.8 L1333.0,679.2 M1344.6,699.1 L1345.6,700.9 L1349.7,708.2 L1353.8,713.3 L1357.9,721.7 L1362.0,728.7 L1366.0,734.9 L1368.9,739.4 M1380.5,756.9 L1382.4,760.6 L1386.5,765.4 L1390.6,773.1 L1394.7,778.5 L1398.8,786.3 L1402.9,794.3 L1405.0,797.2 M1416.0,815.1 L1419.2,821.2 L1423.3,827.3 L1427.4,834.2 L1431.5,841.2 L1435.6,848.3 L1439.7,853.8 L1440.0,854.4 M1451.2,873.4 L1452.0,874.5 L1456.0,882.1 L1460.1,887.7 L1464.2,896.7 L1468.3,901.3 L1472.4,909.3 L1476.2,915.1 M1488.7,929.7 L1488.8,929.8 L1492.9,934.3 L1497.0,940.2 L1501.1,946.5 L1505.1,952.1 L1509.2,958.9 L1513.3,965.8 L1515.0,967.8 M1527.5,987.3 L1529.7,989.6 L1533.8,996.8 L1537.9,998.6 L1542.0,1001.8 L1546.1,1006.8 L1550.1,1009.5 L1554.2,1014.0 L1557.0,1016.8 M1570.8,1034.9 L1574.7,1039.4 L1578.8,1044.8 L1582.9,1046.9 L1587.0,1050.9 L1591.1,1053.7 L1595.2,1060.3 L1599.2,1065.2 L1600.7,1066.9 M1614.8,1079.9 L1615.6,1080.5 L1619.7,1085.0 L1623.8,1089.0 L1627.9,1094.6 L1632.0,1099.1 L1636.1,1101.4 L1640.2,1106.1 L1644.2,1103.8 L1646.8,1104.4 M1662.0,1123.6 L1664.7,1125.3 L1668.8,1128.4 L1672.9,1127.3 L1677.0,1133.6 L1681.1,1134.6 L1685.2,1137.1 L1689.3,1139.7 L1693.3,1142.6 L1694.7,1143.7 M1710.3,1158.0 L1713.8,1158.9 L1717.9,1157.3 L1722.0,1163.0 L1726.1,1163.9 L1730.2,1166.4 L1734.3,1169.8 L1738.3,1172.1 L1742.4,1176.2 L1743.8,1177.1 M1759.5,1187.1 L1762.9,1187.2 L1767.0,1189.4 L1771.1,1189.3 L1775.2,1192.8 L1779.3,1195.5 L1783.3,1197.5 L1787.4,1200.6 L1791.5,1202.0 L1793.4,1204.4 M1809.2,1210.2 L1812.0,1210.8 L1816.1,1213.1 L1820.2,1215.2 L1824.3,1215.9 L1828.4,1218.4 L1832.4,1221.5 L1836.5,1222.7 L1840.6,1224.2 L1843.3,1225.3 M1859.2,1231.9 L1861.1,1232.0 L1865.2,1234.1 L1869.3,1236.1 L1873.4,1236.3 L1877.4,1236.6 L1881.5,1238.6 L1885.6,1242.2 L1889.7,1243.7 L1893.3,1248.3 M1909.2,1252.0 L1910.2,1252.6 L1914.3,1253.7 L1918.4,1255.6 L1922.5,1256.7 L1926.5,1259.3 L1930.6,1259.4 L1934.7,1257.2 L1938.8,1261.5 L1942.9,1264.0 L1943.3,1263.8" stroke="#900080"/>
</g>
<rect x="1365.25" y="47.5" width="638.75" height="498.5" fill="#ffffff" stroke="#0000ff" stroke-width="4.5" shape-rendering="crispEdges"/>
<g fill="none" stroke-linecap="round" stroke-width="5.7">
<path d="M1398.5,109.0 L1651,109.0" stroke="#8f0000"/>
<path d="M1398.5,171.4 L1651,171.4" stroke="#ff8000" stroke-dasharray="0.1 14.9"/>
<path d="M1398.5,233.9 L1651,233.9" stroke="#c0c000" stroke-dasharray="28.6 16"/>
<path d="M1398.5,296.4 L1651,296.4" stroke="#008000" stroke-dasharray="38.8 15.9 0.1 15 0.1 14.7"/>
<path d="M1398.5,358.8 L1651,358.8" stroke="#008080" stroke-dasharray="58.8 25.7"/>
<path d="M1398.5,421.2 L1651,421.2" stroke="#004080" stroke-dasharray="38.8 15.9 0.1 14.3"/>
<path d="M1398.5,483.7 L1651,483.7" stroke="#900080" stroke-dasharray="44 20.5"/>
</g>
<g font-size="46" fill="#000080">
<text x="1715.2" y="128.0">0 <tspan class="sym">µ</tspan>g/mL</text>
<text x="1715.2" y="190.4">143.1 <tspan class="sym">µ</tspan>g/mL</text>
<text x="1715.2" y="252.9">71.5 <tspan class="sym">µ</tspan>g/mL</text>
<text x="1715.2" y="315.4">14.3 <tspan class="sym">µ</tspan>g/mL</text>
<text x="1715.2" y="377.8">7.2 <tspan class="sym">µ</tspan>g/mL</text>
<text x="1715.2" y="440.2">1.4 <tspan class="sym">µ</tspan>g/mL</text>
<text x="1715.2" y="502.7">0.71 <tspan class="sym">µ</tspan>g/mL</text>
</g>
</svg></body></html>
